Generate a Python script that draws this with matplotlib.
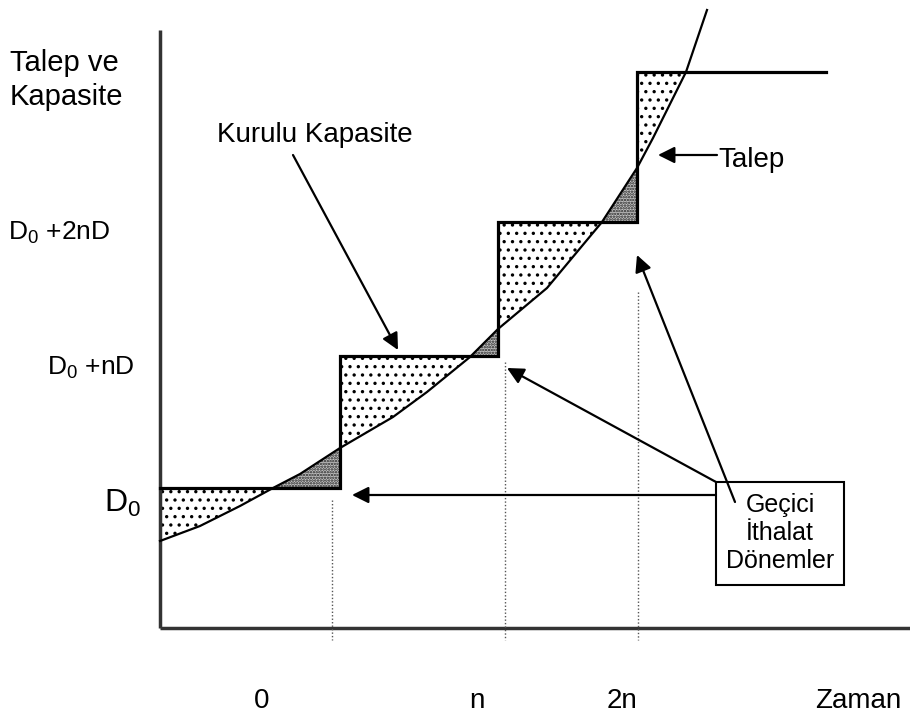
"Kapasite ve talep diyagrami"

import matplotlib
matplotlib.use("Agg")
import matplotlib.pyplot as plt
import numpy as np
from matplotlib.patches import Rectangle

plt.rcParams['font.family'] = ['Liberation Sans', 'DejaVu Sans']
plt.rcParams['mathtext.fontset'] = 'custom'
plt.rcParams['mathtext.rm'] = 'Liberation Sans'
plt.rcParams['hatch.linewidth'] = 1.2

###################
# values (diagram units = pixels, y grows downwards)
step_x = [160, 340, 498, 637, 826]          # capacity step edges
cap_level = [488, 356, 222, 72]             # installed capacity per period

demand_x = [160, 200, 240, 273, 300, 340, 393, 427, 470, 498,
            547, 602, 637, 653, 686, 707]
demand_y = [541, 526, 506, 488, 474, 448, 417, 392, 357, 329,
            288, 222, 168, 138, 72, 10]

tick_x = [262, 477, 622]
tick_labels = ["0", "n", "2n"]
guide_top = [500, 362, 292]                 # dotted guide lines start

y_labels = ["D$_0$ +2nD", "D$_0$ +nD"]
y_label_pos = [(8, 233), (47, 368)]

fig = plt.figure(figsize=(9.1, 7.16), dpi=100)
ax = fig.add_axes([0, 0, 1, 1])
ax.set_xlim(0, 910)
ax.set_ylim(716, 0)
ax.axis("off")

# axes
ax.plot([160, 160], [30, 628], color="#333333", lw=2.5, solid_capstyle="butt")
ax.plot([160, 910], [628, 628], color="#333333", lw=2.5, solid_capstyle="butt")

# step function for capacity
cx, cy = [], []
for i, lev in enumerate(cap_level):
    cx += [step_x[i], step_x[i + 1]]
    cy += [lev, lev]

# demand meets the last capacity level here; no shading beyond it
x_end = np.interp(cap_level[-1], demand_y[::-1], demand_x[::-1])

# shaded areas between capacity and demand
xs_all, cap_all = [], []
for i, lev in enumerate(cap_level):
    lo, hi = step_x[i], min(step_x[i + 1], x_end)
    if lo >= hi:
        continue
    xs = np.linspace(lo, hi, 200)
    xs_all.append(xs)
    cap_all.append(np.full_like(xs, lev))
xs_all = np.concatenate(xs_all)
cap_all = np.concatenate(cap_all)
dem_all = np.interp(xs_all, demand_x, demand_y)

# capacity above demand -> light dots
ax.fill_between(xs_all, cap_all, dem_all, where=dem_all >= cap_all,
                interpolate=True, facecolor="white", edgecolor="black",
                hatch="..", lw=0)
# demand above capacity (import) -> dark dots
ax.fill_between(xs_all, cap_all, dem_all, where=dem_all <= cap_all,
                interpolate=True, facecolor="#c4c4c4", edgecolor="#222222",
                hatch="......", lw=0)

ax.plot(demand_x, demand_y, color="black", lw=1.6)
ax.plot(cx, cy, color="black", lw=2.3, solid_joinstyle="miter")

# dotted guide lines
for x, top in zip([332, 505, 638], guide_top):
    ax.plot([x, x], [top, 640], color="#555555", lw=1, ls=(0, (1, 1.5)))

# text
ax.text(10, 80, "Talep ve\nKapasite", fontsize=21, va="center", ha="left",
        linespacing=1.3)
for lab, (x, y) in zip(y_labels, y_label_pos):
    ax.text(x, y, lab, fontsize=19, va="center", ha="left")
ax.text(104, 503, "D$_0$", fontsize=23, va="center", ha="left")
for x, lab in zip(tick_x, tick_labels):
    ax.text(x, 708, lab, fontsize=20, ha="center", va="baseline")
ax.text(815, 708, "Zaman", fontsize=20, ha="left", va="baseline")

ax.text(217, 135, "Kurulu Kapasite", fontsize=20, va="center", ha="left")
ax.text(718, 160, "Talep", fontsize=20, va="center", ha="left")

# box
ax.add_patch(Rectangle((716, 482), 128, 103, facecolor="white",
                       edgecolor="black", lw=1.5, zorder=3))
ax.text(780, 533, "Geçici\nİthalat\nDönemler", fontsize=18, ha="center",
        va="center", linespacing=1.2, zorder=4)

# arrows
arw = dict(arrowstyle="-|>", mutation_scale=25, lw=1.6, color="black",
           shrinkA=0, shrinkB=0)
arrows = [((293, 155), (398, 350)),
          ((717, 155), (658, 155)),
          ((716, 495), (352, 495)),
          ((716, 482), (507, 368)),
          ((735, 502), (637, 255))]
for start, tip in arrows:
    ax.annotate("", xy=tip, xytext=start, arrowprops=arw)

fig.savefig("out.png", dpi=100)
